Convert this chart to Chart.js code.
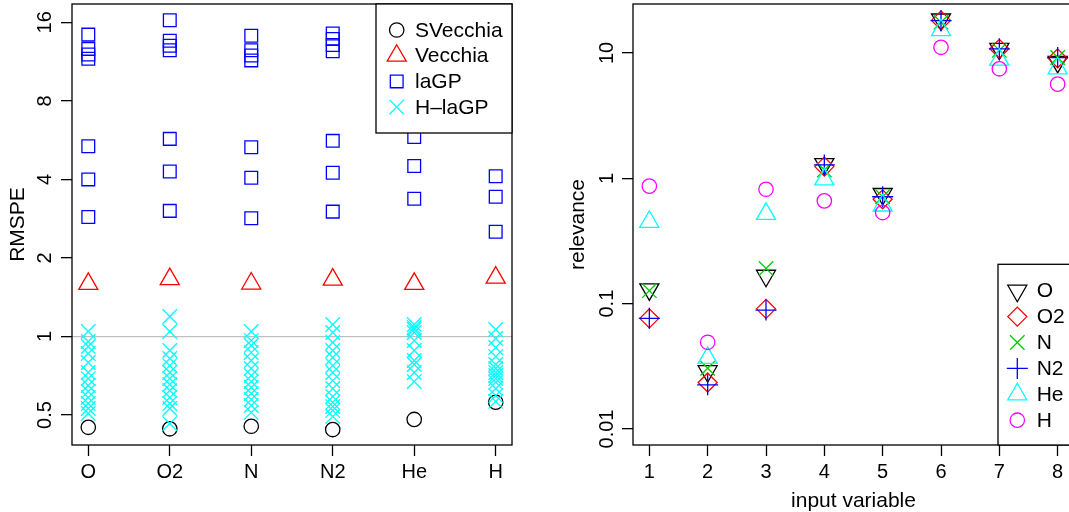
<!DOCTYPE html>
<html><head><meta charset="utf-8">
<script src="https://cdn.jsdelivr.net/npm/chart.js@4.4.1/dist/chart.umd.min.js"></script>
<style>
html,body{margin:0;padding:0;background:#fff;overflow:hidden;width:1069px;height:512px;}
#left{position:absolute;left:0;top:0;width:540px;height:512px;}
#right{position:absolute;left:560px;top:0;width:540px;height:512px;}
</style></head><body>
<div id="left"><canvas id="c1" width="540" height="512"></canvas></div>
<div id="right"><canvas id="c2" width="540" height="512"></canvas></div>
<script>
// ---------- data: left panel (RMSPE by species) ----------
const speciesCategories = ["O", "O2", "N", "N2", "He", "H"];
const rmspeTicks = [0.5, 1, 2, 4, 8, 16];
const rmspeTickLabels = ["0.5", "1", "2", "4", "8", "16"];
const svecchiaRMSPE = [0.449, 0.443, 0.453, 0.440, 0.481, 0.560];
const vecchiaRMSPE = [1.591, 1.659, 1.596, 1.652, 1.591, 1.681];
const laGP_O  = [14.35, 12.65, 12.05, 11.6, 5.36, 4.0, 2.87];
const laGP_O2 = [16.3, 13.6, 13.0, 12.5, 5.72, 4.29, 3.03];
const laGP_N  = [14.2, 12.5, 11.93, 11.43, 5.31, 4.06, 2.84];
const laGP_N2 = [14.5, 13.8, 13.1, 12.4, 5.62, 4.24, 3.01];
const laGP_He = [5.81, 4.5, 3.37];
const laGP_H  = [4.11, 3.43, 2.52];
const hlaGP_O  = [1.045, 0.957, 0.916, 0.861, 0.795, 0.728, 0.690, 0.649, 0.616, 0.584, 0.554, 0.530, 0.507];
const hlaGP_O2 = [1.193, 1.045, 0.884, 0.824, 0.774, 0.728, 0.690, 0.655, 0.621, 0.584, 0.554, 0.530, 0.464];
const hlaGP_N  = [1.045, 0.965, 0.924, 0.868, 0.809, 0.754, 0.709, 0.672, 0.638, 0.605, 0.574, 0.544, 0.512];
const hlaGP_N2 = [1.112, 1.036, 0.949, 0.884, 0.831, 0.774, 0.728, 0.678, 0.632, 0.589, 0.559, 0.539, 0.521, 0.494];
const hlaGP_He = [1.112, 1.083, 1.064, 1.036, 0.965, 0.884, 0.809, 0.781, 0.728, 0.672];
const hlaGP_H  = [1.064, 0.983, 0.908, 0.838, 0.781, 0.754, 0.728, 0.709, 0.690, 0.667, 0.632, 0.594, 0.564];

// ---------- data: right panel (relevance by input variable) ----------
const inputVariables = [1, 2, 3, 4, 5, 6, 7, 8];
const relevanceTicks = [0.01, 0.1, 1, 10];
const relevanceTickLabels = ["0.01", "0.1", "1", "10"];
const relevance_O  = [0.130, 0.0289, 0.167, 1.30, 0.75, 18.5, 10.8, 8.5];
const relevance_O2 = [0.0763, 0.0235, 0.0909, 1.24, 0.68, 18.2, 10.8, 9.07];
const relevance_N  = [0.127, 0.0305, 0.191, 1.165, 0.713, 17.6, 10.5, 9.2];
const relevance_N2 = [0.0763, 0.0225, 0.0889, 1.28, 0.713, 18.1, 10.8, 9.2];
const relevance_He = [0.45, 0.0369, 0.52, 0.98, 0.607, 15.2, 8.86, 7.55];
const relevance_H  = [0.866, 0.0492, 0.818, 0.661, 0.533, 11.1, 7.48, 5.64];

// ---------- styling ----------
const FONT = '"Liberation Sans", Arial, Helvetica, sans-serif';
Chart.defaults.font.family = FONT;
Chart.defaults.color = '#000';
const R = { circle: 7.2, triangle: 11, rect: 9, crossRot: 10.2, cross: 10.5, rectRot: 9.5 };

function drawSym(ctx, style, x, y, r, color, rot) {
  ctx.save();
  ctx.strokeStyle = color; ctx.lineWidth = 1.3;
  ctx.beginPath();
  if (style === 'circle') { ctx.arc(x, y, r, 0, Math.PI * 2); }
  else if (style === 'triangle') {
    const s = rot === 180 ? -1 : 1;
    ctx.moveTo(x, y - s * r);
    ctx.lineTo(x + 0.866 * r, y + s * 0.5 * r);
    ctx.lineTo(x - 0.866 * r, y + s * 0.5 * r);
    ctx.closePath();
  } else if (style === 'rect') { const h = Math.SQRT1_2 * r; ctx.rect(x - h, y - h, 2 * h, 2 * h); }
  else if (style === 'rectRot') { ctx.moveTo(x - r, y); ctx.lineTo(x, y - r); ctx.lineTo(x + r, y); ctx.lineTo(x, y + r); ctx.closePath(); }
  else if (style === 'cross') { ctx.moveTo(x - r, y); ctx.lineTo(x + r, y); ctx.moveTo(x, y - r); ctx.lineTo(x, y + r); }
  else if (style === 'crossRot') { const h = Math.SQRT1_2 * r; ctx.moveTo(x - h, y - h); ctx.lineTo(x + h, y + h); ctx.moveTo(x - h, y + h); ctx.lineTo(x + h, y - h); }
  ctx.stroke();
  ctx.restore();
}

const boxPlugin = {
  id: 'plotBox',
  afterDatasetsDraw(chart) {
    const { ctx, chartArea: a } = chart;
    ctx.save(); ctx.strokeStyle = '#000'; ctx.lineWidth = 1.3;
    ctx.strokeRect(a.left, a.top, a.right - a.left, a.bottom - a.top);
    ctx.restore();
  }
};

const legendPlugin = {
  id: 'boxLegend',
  afterDraw(chart, args, o) {
    const { ctx, chartArea: a } = chart;
    const top = o.top, bottom = o.bottom, left = o.left, right = a.right;
    ctx.save();
    ctx.fillStyle = '#fff'; ctx.fillRect(left, top, right - left, bottom - top);
    ctx.strokeStyle = '#000'; ctx.lineWidth = 1.3; ctx.strokeRect(left, top, right - left, bottom - top);
    chart.data.datasets.forEach((ds, i) => {
      const y = o.rowY0 + i * o.rowStep;
      drawSym(ctx, ds.pointStyle, o.symX, y, ds.pointRadius, ds.pointBorderColor, ds.pointRotation || 0);
      ctx.fillStyle = '#000'; ctx.font = '21px ' + FONT; ctx.textAlign = 'left'; ctx.textBaseline = 'middle';
      ctx.fillText(ds.label, o.textX, y + 1);
    });
    ctx.restore();
  }
};

function ds(label, data, style, color, rot, order) {
  return { label, data, pointStyle: style, pointRadius: R[style], pointHoverRadius: R[style],
    pointBorderColor: color, pointBackgroundColor: 'rgba(0,0,0,0)', pointBorderWidth: 1.3,
    pointHoverBorderWidth: 1.3, pointRotation: rot || 0, showLine: false, order };
}

function flat(perSpecies) {
  const out = [];
  perSpecies.forEach((vals, i) => vals.forEach(v => out.push({ x: i + 1, y: v })));
  return out;
}

function yAxis(min, max, ticks, labels, width, pad, title, gridFn) {
  return {
    type: 'logarithmic', min, max,
    afterBuildTicks: s => { s.ticks = ticks.map(v => ({ value: v })); },
    afterFit: s => { s.width = width; s.paddingTop = 0; s.paddingBottom = 0; },
    ticks: { callback: v => labels[ticks.indexOf(v)], minRotation: 90, maxRotation: 90, crossAlign: 'center',
      padding: pad, font: { size: 20, lineHeight: 0.3 }, color: '#000', autoSkip: false },
    grid: { color: gridFn, lineWidth: 1.3, drawOnChartArea: true, drawTicks: true, tickLength: 11, tickColor: '#000', tickWidth: 1.3 },
    border: { display: false },
    title: { display: true, text: title, font: { size: 21 }, padding: { top: 6, bottom: 0 }, color: '#000' }
  };
}

function xAxis(min, max, ticks, labelFn, title) {
  const ax = {
    type: 'linear', min, max,
    afterBuildTicks: s => { s.ticks = ticks.map(v => ({ value: v })); },
    afterFit: s => { s.height = 67; s.paddingLeft = 0; s.paddingRight = 0; },
    ticks: { callback: labelFn, maxRotation: 0, minRotation: 0, autoSkip: false, padding: 4, font: { size: 20 }, color: '#000' },
    grid: { color: 'rgba(0,0,0,0)', drawOnChartArea: false, drawTicks: true, tickLength: 11, tickColor: '#000', tickWidth: 1.3 },
    border: { display: false }
  };
  if (title) ax.title = { display: true, text: title, font: { size: 21, lineHeight: 1.0 }, padding: { top: 0, bottom: 0 }, color: '#000' };
  return ax;
}

const common = { responsive: false, animation: false, devicePixelRatio: 1, events: [] };

// ---------- left chart ----------
const leftDatasets = [
  ds('SVecchia', svecchiaRMSPE.map((v, i) => ({ x: i + 1, y: v })), 'circle', '#000000', 0, 4),
  ds('Vecchia', vecchiaRMSPE.map((v, i) => ({ x: i + 1, y: v })), 'triangle', '#ff0000', 0, 3),
  ds('laGP', flat([laGP_O, laGP_O2, laGP_N, laGP_N2, laGP_He, laGP_H]), 'rect', '#0000ff', 0, 2),
  ds('H\u2013laGP', flat([hlaGP_O, hlaGP_O2, hlaGP_N, hlaGP_N2, hlaGP_He, hlaGP_H]), 'crossRot', '#00ffff', 0, 1)
];
new Chart(document.getElementById('c1'), {
  type: 'scatter',
  data: { datasets: leftDatasets },
  plugins: [boxPlugin, legendPlugin],
  options: Object.assign({}, common, {
    layout: { autoPadding: false, padding: { top: 4, right: 28, left: 0, bottom: 0 } },
    plugins: { legend: { display: false }, tooltip: { enabled: false },
      boxLegend: { left: 376, top: 4, bottom: 133, rowY0: 30, rowStep: 25.7, symX: 396.7, textX: 415 } },
    scales: {
      x: xAxis(0.8, 6.2, [1, 2, 3, 4, 5, 6], v => speciesCategories[v - 1], null),
      y: yAxis(0.384, 18.8, rmspeTicks, rmspeTickLabels, 72, 2,  'RMSPE',
        c => (c.tick && c.tick.value === 1) ? '#bebebe' : 'rgba(0,0,0,0)')
    }
  })
});

// ---------- right chart ----------
const relSeries = [
  ['O', relevance_O, 'triangle', '#000000', 180],
  ['O2', relevance_O2, 'rectRot', '#ff0000', 0],
  ['N', relevance_N, 'crossRot', '#00cd00', 0],
  ['N2', relevance_N2, 'cross', '#0000ff', 0],
  ['He', relevance_He, 'triangle', '#00ffff', 0],
  ['H', relevance_H, 'circle', '#ff00ff', 0]
];
const rightDatasets = relSeries.map((s, i) =>
  ds(s[0], s[1].map((v, j) => ({ x: inputVariables[j], y: v })), s[2], s[3], s[4], relSeries.length - i));
new Chart(document.getElementById('c2'), {
  type: 'scatter',
  data: { datasets: rightDatasets },
  plugins: [boxPlugin, legendPlugin],
  options: Object.assign({}, common, {
    layout: { autoPadding: false, padding: { top: 4, right: 26, left: 0, bottom: 0 } },
    plugins: { legend: { display: false }, tooltip: { enabled: false },
      boxLegend: { left: 438, top: 264.3, bottom: 445, rowY0: 290.7, rowStep: 25.9, symX: 457.3, textX: 476.7 } },
    scales: {
      x: xAxis(0.72, 8.28, inputVariables, v => String(v), 'input variable'),
      y: yAxis(0.00745, 24.6, relevanceTicks, relevanceTickLabels, 73, -5, 'relevance', () => 'rgba(0,0,0,0)')
    }
  })
});
</script>
</body></html>
